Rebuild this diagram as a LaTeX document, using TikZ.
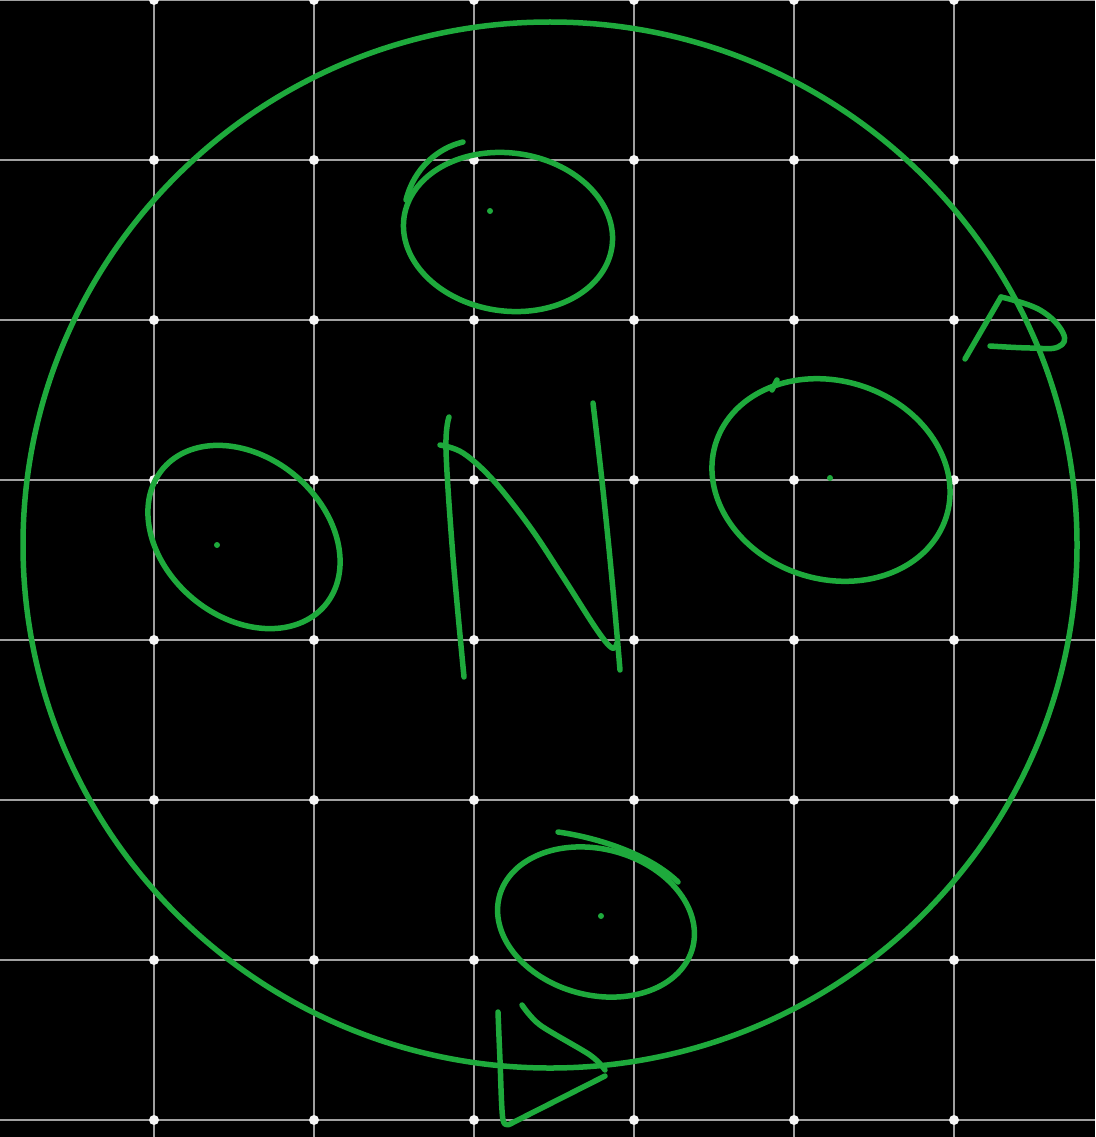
\documentclass[tikz,border=0pt]{standalone}
\definecolor{ink}{RGB}{30,170,60}
\definecolor{gridgrey}{RGB}{160,160,160}
\tikzset{
  pen/.style={draw=ink, line width=5.5pt, line cap=round, line join=round},
  gridline/.style={draw=gridgrey, line width=2.2pt},
  griddot/.style={fill=white!92!gray},
  centredot/.style={fill=ink}
}
% centre x, centre y, semi-axis a, semi-axis b, tilt (degrees, clockwise on the page)
\newcommand{\handoval}[5]{%
  \draw[pen] plot[domain=0:360, samples=144, smooth]
    ({#1 + #3*cos(\x)*cos(#5) - #4*sin(\x)*sin(#5)},
     {#2 + #3*cos(\x)*sin(#5) + #4*sin(\x)*cos(#5)});}
\begin{document}
\begin{tikzpicture}[x=1pt,y=-1pt]
\fill[black] (0,0) rectangle (1095,1137);
\useasboundingbox (0,0) rectangle (1095,1137);
% grid
\foreach \gx in {154,314,474,634,794,954} \draw[gridline] (\gx,0) -- (\gx,1137);
\foreach \gy in {0,160,320,480,640,800,960,1120} \draw[gridline] (0,\gy) -- (1095,\gy);
\foreach \gx in {154,314,474,634,794,954}
  \foreach \gy in {0,160,320,480,640,800,960,1120}
    \fill[griddot] (\gx,\gy) circle (5);
% big circle
\draw[pen] (550,545) ellipse [x radius=527, y radius=523];
% top oval
\handoval{508}{232}{105}{79}{8}
\draw[pen] (463,142) .. controls (438,148) and (414,168) .. (406,200);
\fill[centredot] (490,211) circle (3);
% right oval
\handoval{831}{480}{121}{99}{18}
\draw[pen] (772,390) -- (777,380);
\fill[centredot] (830,478) circle (3);
% left oval
\handoval{244}{537}{106}{80}{40}
\fill[centredot] (217,545) circle (3);
% bottom oval
\handoval{596}{922}{100}{73}{15}
\draw[pen] (558,832) .. controls (600,838) and (650,855) .. (678,882);
\fill[centredot] (601,916) circle (3);
% N
\draw[pen] plot[smooth, tension=0.6] coordinates {(449,417) (446,450) (453,557) (464,677)};
\draw[pen] plot[smooth, tension=0.6] coordinates {(440,445) (463,453) (493,480) (530,527) (563,577) (597,630) (612,648) (617,643)};
\draw[pen] plot[smooth, tension=0.6] coordinates {(593,403) (603,490) (613,590) (620,670)};
% right arrow
\draw[pen] (965,359) -- (1001,297);
\draw[pen] plot[smooth, tension=0.7] coordinates {(1001,297) (1040,310) (1063,333) (1058,347) (1030,348) (990,346)};
% bottom arrow
\draw[pen] plot[smooth, tension=0.5] coordinates {(498,1012) (500,1060) (503,1120) (512,1123)};
\draw[pen] (512,1123) -- (605,1076);
\draw[pen] plot[smooth, tension=0.5] coordinates {(522,1005) (540,1025) (590,1055) (605,1070)};
\end{tikzpicture}
\end{document}
